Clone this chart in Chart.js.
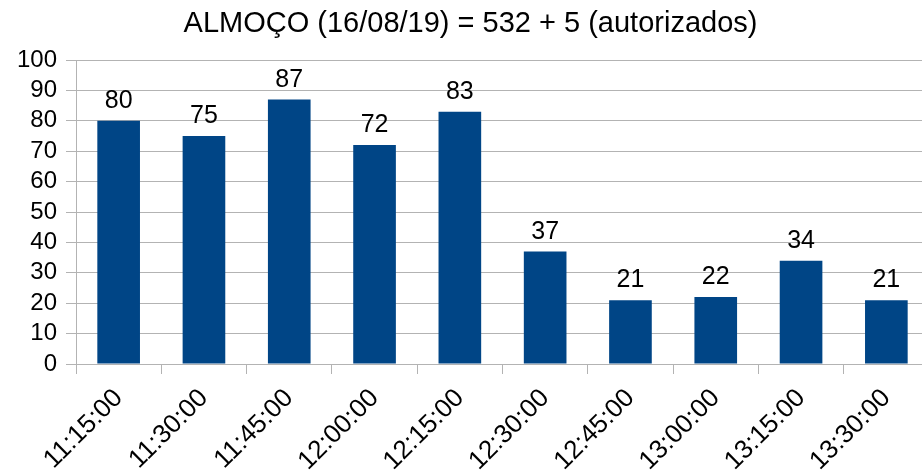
<!DOCTYPE html>
<html>
<head>
<meta charset="utf-8">
<script src="https://cdn.jsdelivr.net/npm/chart.js@4/dist/chart.umd.min.js"></script>
<style>
  html, body { margin: 0; padding: 0; background: #fff; overflow: hidden; }
  #clip { width: 922px; height: 472px; overflow: hidden; position: relative; }
  #wrap { width: 929px; height: 472px; position: relative; }
</style>
</head>
<body>
<div id="clip"><div id="wrap"><canvas id="c"></canvas></div></div>
<script>
const titleText = "ALMOÇO (16/08/19) = 532 + 5 (autorizados)";
const categories = ["11:15:00", "11:30:00", "11:45:00", "12:00:00", "12:15:00", "12:30:00", "12:45:00", "13:00:00", "13:15:00", "13:30:00"];
const counts = [80, 75, 87, 72, 83, 37, 21, 22, 34, 21];
const yMin = 0, yMax = 100, yStep = 10;

Chart.defaults.font.family = "'Liberation Sans', Arial, sans-serif";
Chart.defaults.color = "#000";

const valueLabels = {
  id: "valueLabels",
  afterDatasetsDraw(chart) {
    const ctx = chart.ctx;
    const meta = chart.getDatasetMeta(0);
    const data = chart.data.datasets[0].data;
    ctx.save();
    ctx.font = "25px 'Liberation Sans', Arial, sans-serif";
    ctx.fillStyle = "#000";
    ctx.textAlign = "center";
    ctx.textBaseline = "alphabetic";
    meta.data.forEach((bar, i) => {
      ctx.fillText(String(data[i]), bar.x, bar.y - 13);
    });
    ctx.restore();
  }
};

new Chart(document.getElementById("c"), {
  type: "bar",
  data: {
    labels: categories,
    datasets: [{
      data: counts,
      backgroundColor: "#004586",
      borderWidth: 0,
      categoryPercentage: 1.0,
      barPercentage: 0.5
    }]
  },
  options: {
    responsive: true,
    maintainAspectRatio: false,
    animation: false,
    layout: { padding: { left: 12, right: 0, top: 0, bottom: 0 } },
    plugins: {
      legend: { display: false },
      tooltip: { enabled: false },
      title: {
        display: true,
        text: titleText,
        color: "#000",
        font: { size: 29, weight: "normal" },
        padding: { top: 7, bottom: 18.2 }
      }
    },
    scales: {
      x: {
        offset: true,
        grid: { drawOnChartArea: false, offset: true, tickLength: 10, color: "#b3b3b3", lineWidth: 1 },
        border: { color: "#b3b3b3" },
        ticks: { minRotation: 45, maxRotation: 45, autoSkip: false, font: { size: 26 }, color: "#000", padding: 9 },
        afterFit(scale) { scale.height = 108; scale.paddingLeft = 0; scale.paddingRight = 0; }
      },
      y: {
        min: yMin,
        max: yMax,
        grid: { tickLength: 10, color: "#b3b3b3", lineWidth: 1 },
        border: { color: "#b3b3b3" },
        ticks: { stepSize: yStep, autoSkip: false, font: { size: 24 }, color: "#000", padding: 9 },
        afterFit(scale) { scale.width = 64; scale.paddingTop = 0; scale.paddingBottom = 0; }
      }
    }
  },
  plugins: [valueLabels]
});
</script>
</body>
</html>
